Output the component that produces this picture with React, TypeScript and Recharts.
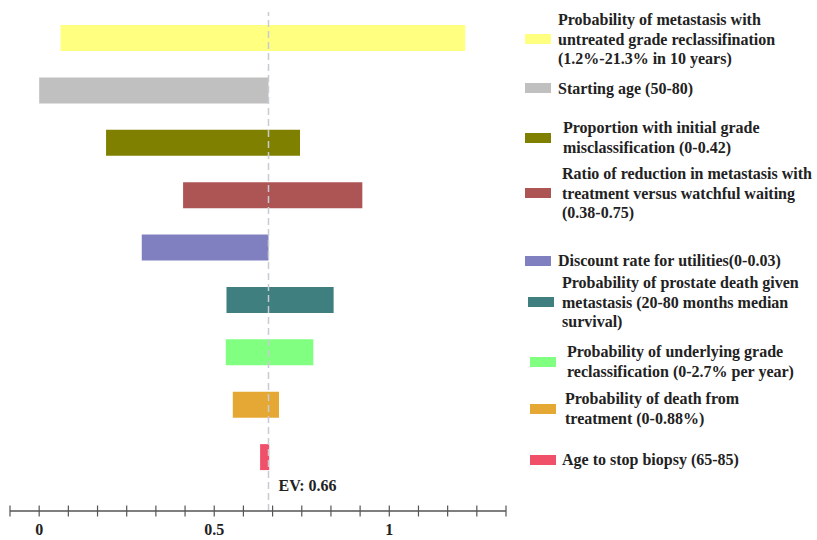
import React from 'react';
import { BarChart, Bar, XAxis, YAxis, Cell, ReferenceLine } from 'recharts';

const parameters = [
  'Probability of metastasis with untreated grade reclassifination (1.2%-21.3% in 10 years)',
  'Starting age (50-80)',
  'Proportion with initial grade misclassification (0-0.42)',
  'Ratio of reduction in metastasis with treatment versus watchful waiting (0.38-0.75)',
  'Discount rate for utilities(0-0.03)',
  'Probability of prostate death given metastasis (20-80 months median survival)',
  'Probability of underlying grade reclassification (0-2.7% per year)',
  'Probability of death from treatment (0-0.88%)',
  'Age to stop biopsy (65-85)',
];

const lowValues = [0.061, 0.0, 0.191, 0.411, 0.293, 0.535, 0.533, 0.553, 0.631];
const highValues = [1.217, 0.655, 0.745, 0.923, 0.655, 0.841, 0.783, 0.685, 0.657];

const barColors = ['#FFFF80', '#C0C0C0', '#808000', '#AD5555', '#8080C0', '#3F7F7F', '#80FF80', '#E6A835', '#F0506A'];

const legendLines = [
  ['Probability of metastasis with', 'untreated grade reclassifination', '(1.2%-21.3% in 10 years)'],
  ['Starting age (50-80)'],
  ['Proportion with initial grade', 'misclassification (0-0.42)'],
  ['Ratio of reduction in metastasis with', 'treatment versus watchful waiting', '(0.38-0.75)'],
  ['Discount rate for utilities(0-0.03)'],
  ['Probability of prostate death given', 'metastasis (20-80 months median', 'survival)'],
  ['Probability of underlying grade', 'reclassification (0-2.7% per year)'],
  ['Probability of death from', 'treatment (0-0.88%)'],
  ['Age to stop biopsy (65-85)'],
];

const expectedValue = 0.655;
const evLabel = 'EV: 0.66';

const axisTicks = [
  -0.08333, 0, 0.08333, 0.16667, 0.25, 0.33333, 0.41667, 0.5, 0.58333, 0.66667, 0.75,
  0.83333, 0.91667, 1, 1.08333, 1.16667, 1.25, 1.33333,
];
const labeledTicks = [0, 0.5, 1];
const tickLabelText = ['0', '0.5', '1'];

const data = parameters.map((name, i) => ({ name, range: [lowValues[i], highValues[i]] }));

const FONT = "'Liberation Serif', 'Times New Roman', serif";

// legend layout (styling only)
const legendLayout = [
  { top: 10, swatchX: 525, textX: 558 },
  { top: 78.5, swatchX: 525, textX: 558 },
  { top: 118, swatchX: 525, textX: 563 },
  { top: 164, swatchX: 525, textX: 562 },
  { top: 251, swatchX: 525, textX: 558 },
  { top: 273, swatchX: 528, textX: 562 },
  { top: 342, swatchX: 530, textX: 567 },
  { top: 389, swatchX: 530, textX: 565 },
  { top: 450, swatchX: 530, textX: 562 },
];

const AxisTick = (props: any) => {
  const { x, y, payload } = props;
  const idx = labeledTicks.findIndex((v) => Math.abs(v - payload.value) < 1e-4);
  return (
    <g>
      <line x1={x} x2={x} y1={y - 5.5} y2={y + 5.5} stroke="#555" strokeWidth={1.2} />
      {idx >= 0 && (
        <text x={x} y={y + 24} textAnchor="middle" fontFamily={FONT} fontWeight="bold" fontSize={16} fill="#222">
          {tickLabelText[idx]}
        </text>
      )}
    </g>
  );
};

const EvLabel = (props: any) => {
  const vb = props.viewBox || {};
  return (
    <text x={vb.x + 10} y={vb.y + vb.height - 20} fontFamily={FONT} fontWeight="bold" fontSize={16} fill="#222">
      {evLabel}
    </text>
  );
};

export default function App() {
  return (
    <div style={{ position: 'absolute', left: 0, top: 0, width: 817, height: 540, background: '#fff', overflow: 'hidden' }}>
      <BarChart
        width={817}
        height={540}
        data={data}
        layout="vertical"
        margin={{ top: 12, right: 311, bottom: 1, left: 10 }}
        barSize={26}
      >
        <XAxis
          type="number"
          domain={[-1 / 12, 4 / 3]}
          ticks={axisTicks}
          interval={0}
          allowDataOverflow
          height={28}
          tickSize={0}
          tickMargin={0}
          tickLine={false}
          axisLine={{ stroke: '#555', strokeWidth: 1.5 }}
          tick={<AxisTick />}
        />
        <YAxis type="category" dataKey="name" hide width={0} padding={{ top: 0, bottom: 27.5 }} />
        <Bar dataKey="range" isAnimationActive={false}>
          {data.map((d, i) => (
            <Cell key={d.name} fill={barColors[i]} />
          ))}
        </Bar>
        <ReferenceLine
          x={expectedValue}
          stroke="#C8CCD0"
          strokeWidth={1.5}
          strokeDasharray="7 4"
          label={<EvLabel />}
        />
      </BarChart>
      {legendLines.map((lines, i) => {
        const lay = legendLayout[i];
        return (
          <div
            key={i}
            style={{
              position: 'absolute',
              top: lay.top,
              left: lay.swatchX,
              display: 'flex',
              alignItems: 'center',
              fontFamily: FONT,
              fontWeight: 'bold',
              fontSize: 16,
              lineHeight: '19.5px',
              color: '#222',
              whiteSpace: 'nowrap',
            }}
          >
            <div style={{ width: 26, height: 10, background: barColors[i], marginRight: lay.textX - lay.swatchX - 26 }} />
            <div>
              {lines.map((l) => (
                <div key={l}>{l}</div>
              ))}
            </div>
          </div>
        );
      })}
    </div>
  );
}
